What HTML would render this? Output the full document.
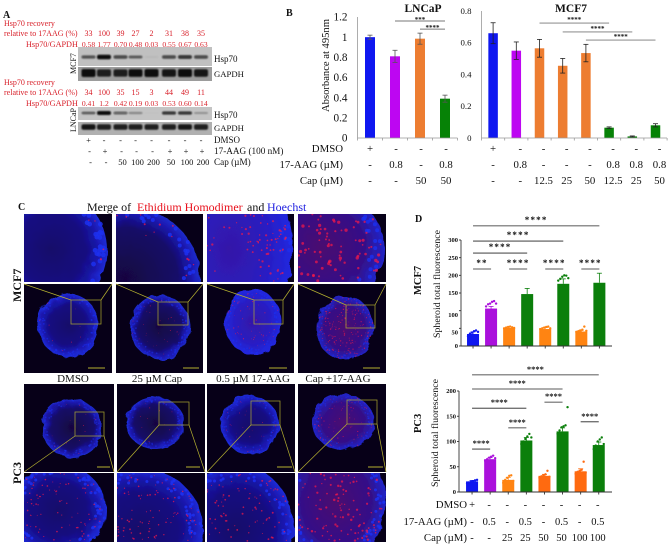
<!DOCTYPE html>
<html lang="en">
<head>
<meta charset="utf-8">
<title>Hsp70 recovery and spheroid fluorescence figure</title>
<style>
html,body{margin:0;padding:0;background:#fff;width:669px;height:545px;overflow:hidden;}
svg{display:block;font-family:"Liberation Serif",serif;overflow:hidden;}
</style>
</head>
<body>
<svg id="fig" xmlns="http://www.w3.org/2000/svg" width="669" height="545" viewBox="0 0 669 545">
<defs>
<filter id="soft" x="-20%" y="-60%" width="140%" height="220%"><feGaussianBlur stdDeviation="0.8"/></filter>
<filter id="rough" x="-10%" y="-10%" width="120%" height="120%"><feTurbulence type="fractalNoise" baseFrequency="0.09" numOctaves="2" seed="4"/><feDisplacementMap in="SourceGraphic" scale="7"/></filter>
</defs>
<rect width="669" height="545" fill="#fff"/>
<g id="panelA"></g>
<g id="panelB"></g>
<g id="panelC"></g>
<g id="panelD"></g>
</svg>
<script>
/* ---------- chart data ---------- */
const lncapValues = [1.0, 0.81, 0.985, 0.39];
const lncapErrors = [0.02, 0.06, 0.055, 0.035];
const lncapTicks = [0, 0.2, 0.4, 0.6, 0.8, 1, 1.2];
const lncapRowDmso = ['+', '-', '-', '-'];
const lncapRowAag = ['-', '0.8', '-', '0.8'];
const lncapRowCap = ['-', '-', '50', '50'];
const lncapSigFrom = [1, 2];
const lncapSigTo = [3, 3];
const lncapSigLevel = [1.16, 1.08];
const lncapSigLabel = ['***', '****'];

const mcf7Values = [0.66, 0.55, 0.565, 0.455, 0.535, 0.065, 0.01, 0.08];
const mcf7Errors = [0.066, 0.055, 0.056, 0.046, 0.055, 0.005, 0.003, 0.01];
const mcf7Ticks = [0, 0.2, 0.4, 0.6, 0.8];
const mcf7RowDmso = ['+', '-', '-', '-', '-', '-', '-', '-'];
const mcf7RowAag = ['-', '0.8', '-', '-', '-', '0.8', '0.8', '0.8'];
const mcf7RowCap = ['-', '-', '12.5', '25', '50', '12.5', '25', '50'];
const mcf7SigFrom = [2, 3, 4];
const mcf7SigTo = [5, 6, 7];
const mcf7SigLevel = [0.724, 0.668, 0.617];
const mcf7SigLabel = ['****', '****', '****'];

const spheroidMcf7Values = [34, 106, 51, 147, 48, 176, 41, 179];
const spheroidMcf7Errors = [6, 6, 3, 16, 4, 14, 4, 27];
const spheroidMcf7Ticks = [0, 50, 100, 150, 200, 250, 300];
const spheroidMcf7Points = [[28,35,38,42,44,40],[112,118,120,125,127,120],[50,52,54,55,53,51],[],[48,50,52,54,55,50],[185,190,196,200,199,192],[40,42,44,46,55,43],[]];
const spheroidMcf7SigFrom = [0, 2, 4, 6, 0, 0, 0];
const spheroidMcf7SigTo = [1, 3, 5, 7, 3, 5, 7];
const spheroidMcf7SigLevel = [218, 218, 218, 218, 263, 297, 340];
const spheroidMcf7SigLabel = ['**', '****', '****', '****', '****', '****', '****'];

const spheroidPc3Values = [21, 65, 24, 102, 32, 120, 41, 93];
const spheroidPc3Errors = [2, 3, 5, 6, 3, 7, 5, 6];
const spheroidPc3Ticks = [0, 50, 100, 150, 200];
const spheroidPc3Points = [[17,19,20,21,23,24],[62,65,68,70,72,67],[18,24,28,32,33,22],[95,100,105,110,115,108],[28,31,33,35,42,30],[115,122,128,130,132,168],[36,40,42,44,60,38],[85,92,100,104,108,95]];
const spheroidPc3SigFrom = [0, 2, 0, 4, 6, 0, 0];
const spheroidPc3SigTo = [1, 3, 3, 5, 7, 5, 7];
const spheroidPc3SigLevel = [85, 127, 166, 178, 139, 204, 232];
const spheroidPc3SigLabel = ['****', '****', '****', '****', '****', '****', '****'];
const spheroidRowDmso = ['+', '-', '-', '-', '-', '-', '-', '-'];
const spheroidRowAag = ['-', '0.5', '-', '0.5', '-', '0.5', '-', '0.5'];
const spheroidRowCap = ['-', '-', '25', '25', '50', '50', '100', '100'];

/* ---------- blot data ---------- */
const recoveryMcf7 = ['33', '100', '39', '27', '2', '31', '38', '35'];
const ratioMcf7 = ['0.58', '1.77', '0.70', '0.48', '0.03', '0.55', '0.67', '0.63'];
const recoveryLncap = ['34', '100', '35', '15', '3', '44', '49', '11'];
const ratioLncap = ['0.41', '1.2', '0.42', '0.19', '0.03', '0.53', '0.60', '0.14'];
const bandsHspMcf7 = [0.6, 1, 0.65, 0.5, 0.04, 0.65, 0.75, 0.65];
const bandsGapdhMcf7 = [1, 0.85, 0.85, 0.95, 1, 0.9, 1, 0.9];
const bandsHspLncap = [0.5, 1, 0.55, 0.3, 0.02, 0.75, 0.75, 0.25];
const bandsGapdhLncap = [0.9, 0.85, 0.85, 0.85, 0.85, 0.85, 0.9, 0.85];
const rowDmsoBlot = ['+', '-', '-', '-', '-', '-', '-', '-'];
const rowAagBlot = ['-', '+', '-', '-', '-', '+', '+', '+'];
const rowCapBlot = ['-', '-', '50', '100', '200', '50', '100', '200'];

/* ---------- helpers ---------- */
const NS = 'http://www.w3.org/2000/svg';
function make(parent, tag, name, props) {
  const el = document.createElementNS(NS, tag);
  
  
  for (const k in props) el.setAttribute(k, props[k]);
  parent.appendChild(el);
  return el;
}
function text(parent, name, str, x, y, size, opts) {
  const o = opts || {};
  const el = make(parent, 'text', name, {x: x, y: y, 'font-size': size, fill: o.fill || '#111', 'text-anchor': o.anchor || 'start', 'font-weight': o.weight || 'normal'});
  if (o.rotate) el.setAttribute('transform', 'rotate(-90 ' + x + ' ' + y + ')');
  if (o.spacing) el.setAttribute('letter-spacing', o.spacing);
  el.textContent = str;
  return el;
}
function line(parent, name, x1, y1, x2, y2, stroke, w) {
  return make(parent, 'line', name, {x1: x1, y1: y1, x2: x2, y2: y2, stroke: stroke, 'stroke-width': w});
}
function rng(seed) {
  let s = seed;
  return function () { s = (s * 16807) % 2147483647; return s / 2147483647; };
}

/* ---------- panel A ---------- */
const A = document.getElementById('panelA');
const RED = '#d8202a';
const blotCol = i => 88.5 + [0, 15.5, 32, 47, 63, 80.5, 96.5, 112.5][i];
text(A, 'panel-a-label', 'A', 3, 18, 10, {weight: 'bold'});
function blotHeader(y0, rec, rat, prefix) {
  text(A, prefix + '-recovery-title-1', 'Hsp70 recovery', 4, y0, 8, {fill: RED});
  text(A, prefix + '-recovery-title-2', 'relative to 17AAG (%)', 4, y0 + 10, 8, {fill: RED});
  text(A, prefix + '-ratio-title', 'Hsp70/GAPDH', 26, y0 + 21, 8.2, {fill: RED});
  rec.forEach((v, i) => text(A, prefix + '-recovery-value', v, blotCol(i), y0 + 10, 8, {fill: RED, anchor: 'middle'}));
  rat.forEach((v, i) => text(A, prefix + '-ratio-value', v, blotCol(i), y0 + 21, 7.6, {fill: RED, anchor: 'middle'}));
}
blotHeader(26, recoveryMcf7, ratioMcf7, 'mcf7');
blotHeader(85, recoveryLncap, ratioLncap, 'lncap');
function blot(y, h, bands, bandY, bandH, bg, name) {
  make(A, 'rect', name + '-membrane', {x: 78, y: y, width: 134, height: h, fill: bg});
  const g = make(A, 'g', name + '-bands', {filter: 'url(#soft)'});
  bands.forEach((v, i) => {
    make(g, 'rect', name + '-band', {x: blotCol(i) - 7, y: bandY - bandH * (0.35 + v * 0.65) / 2, width: 14, height: bandH * (0.35 + v * 0.65), rx: 2, fill: '#0c0c0c', opacity: Math.min(1, v * 1.05)});
  });
}
blot(47, 19, bandsHspMcf7, 57, 4.5, '#c0c0c0', 'mcf7-hsp70-blot');
blot(67, 14, bandsGapdhMcf7, 73, 8, '#9c9c9c', 'mcf7-gapdh-blot');
blot(107, 13, bandsHspLncap, 113, 4, '#c4c4c4', 'lncap-hsp70-blot');
blot(122, 13, bandsGapdhLncap, 127, 6, '#b0b0b0', 'lncap-gapdh-blot');
text(A, 'mcf7-blot-label', 'MCF7', 76, 74, 8, {rotate: true});
text(A, 'lncap-blot-label', 'LNCaP', 76, 132, 8, {rotate: true});
text(A, 'hsp70-label', 'Hsp70', 214, 62, 9);
text(A, 'gapdh-label', 'GAPDH', 214, 77, 8.7);
text(A, 'hsp70-label-lncap', 'Hsp70', 214, 118, 9);
text(A, 'gapdh-label-lncap', 'GAPDH', 214, 131, 8.7);
text(A, 'dmso-row-label', 'DMSO', 214, 143, 9);
text(A, 'aag-row-label', '17-AAG (100 nM)', 214, 154, 9.2);
text(A, 'cap-row-label', 'Cap (µM)', 214, 165, 9.2);
rowDmsoBlot.forEach((v, i) => text(A, 'dmso-row-value', v, blotCol(i), 143, 8.5, {anchor: 'middle'}));
rowAagBlot.forEach((v, i) => text(A, 'aag-row-value', v, blotCol(i) + 1, 154, 8.5, {anchor: 'middle'}));
rowCapBlot.forEach((v, i) => text(A, 'cap-row-value', v, blotCol(i) + 2, 165, 8.5, {anchor: 'middle'}));

/* ---------- generic bar chart ---------- */
function barChart(cfg) {
  const g = make(cfg.parent, 'g', cfg.name, {});
  const y = v => cfg.y0 - v * (cfg.y0 - cfg.yTop) / cfg.max;
  const x = i => cfg.x0 + cfg.band * (i + 0.5) + cfg.pad;
  cfg.values.forEach((v, i) => {
    const color = cfg.colors[i];
    const top = y(v + cfg.errors[i]);
    const errColor = cfg.errColor || color;
    if (!cfg.errBoth) {
      line(g, cfg.name + '-error-stem', x(i), top, x(i), y(v), errColor, 0.8);
      line(g, cfg.name + '-error-cap', x(i) - 2.5, top, x(i) + 2.5, top, errColor, 0.8);
    }
    make(g, 'rect', cfg.name + '-bar', {x: x(i) - cfg.barW / 2, y: y(v), width: cfg.barW, height: cfg.y0 - y(v), fill: color});
    if (cfg.errBoth) {
      const bot = y(v - cfg.errors[i]);
      line(g, cfg.name + '-error-stem', x(i), top, x(i), bot, errColor, 0.8);
      line(g, cfg.name + '-error-cap', x(i) - 2.5, bot, x(i) + 2.5, bot, errColor, 0.8);
      line(g, cfg.name + '-error-cap', x(i) - 2.5, top, x(i) + 2.5, top, errColor, 0.8);
    }
    if (cfg.points && cfg.points[i]) {
      cfg.points[i].forEach((p, j) => {
        const off = (j - (cfg.points[i].length - 1) / 2) * 2;
        make(g, 'circle', cfg.name + '-point', {cx: x(i) + off, cy: y(p), r: 1.2, fill: color});
      });
    }
  });
  line(g, cfg.name + '-x-axis', cfg.x0, cfg.y0, cfg.xEnd, cfg.y0, cfg.axisColor, cfg.axisW);
  line(g, cfg.name + '-y-axis', cfg.x0, cfg.yTop, cfg.x0, cfg.y0, cfg.axisColor, cfg.axisW);
  cfg.ticks.forEach(t => {
    const dy = cfg.labelShift ? cfg.labelShift(t) : 0;
    text(g, cfg.name + '-y-tick-label', String(t), cfg.x0 - cfg.labelGap, y(t) + cfg.fontSize * 0.33 + dy, cfg.fontSize, {anchor: 'end', weight: cfg.tickWeight || 'normal'});
    line(g, cfg.name + '-y-tick', cfg.x0 - cfg.tickLen, y(t), cfg.x0, y(t), cfg.axisColor, cfg.axisW);
  });
  if (cfg.centerTicks) {
    cfg.values.forEach((v, i) => line(g, cfg.name + '-x-tick', x(i), cfg.y0, x(i), cfg.y0 + 2.5, cfg.axisColor, cfg.axisW));
  } else {
    for (let i = 0; i <= cfg.values.length; i++) {
      line(g, cfg.name + '-x-tick', cfg.x0 + cfg.band * i, cfg.y0, cfg.x0 + cfg.band * i, cfg.y0 + 2.5, cfg.axisColor, cfg.axisW);
    }
  }
  cfg.sigFrom.forEach((a, k) => {
    const ly = y(cfg.sigLevel[k]);
    const x1 = x(a), x2 = x(cfg.sigTo[k]);
    line(g, cfg.name + '-significance-line', x1, ly, x2, ly, cfg.sigColor, cfg.sigW);
    text(g, cfg.name + '-significance-stars', cfg.sigLabel[k], (x1 + x2) / 2, ly + cfg.starDy, cfg.starSize, {anchor: 'middle', weight: 'bold', spacing: cfg.starSpacing});
  });
  return {x: x, y: y};
}

/* ---------- panel B ---------- */
const B = document.getElementById('panelB');
const BLUE = '#0f17f0', PURPLE = '#bd06f2', ORANGE = '#ed7d31', GREEN = '#068206';
text(B, 'panel-b-label', 'B', 286, 16, 10, {weight: 'bold'});
text(B, 'lncap-chart-title', 'LNCaP', 423, 12, 11.5, {weight: 'bold', anchor: 'middle'});
text(B, 'mcf7-chart-title', 'MCF7', 571, 12, 11.5, {weight: 'bold', anchor: 'middle'});
text(B, 'absorbance-axis-title', 'Absorbance at 495nm', 329, 112, 10.6, {rotate: true});
const chartL = barChart({
  parent: B, name: 'lncap-chart', values: lncapValues, errors: lncapErrors, errBoth: true, errColor: '#555',
  colors: [BLUE, PURPLE, ORANGE, GREEN], x0: 357.5, xEnd: 457.5, band: 25, pad: 0, barW: 10, y0: 138, yTop: 17, max: 1.2,
  ticks: lncapTicks, fontSize: 11.2, labelGap: 10, tickLen: 0, axisColor: '#999', axisW: 0.8,
  sigFrom: lncapSigFrom, sigTo: lncapSigTo, sigLevel: lncapSigLevel, sigLabel: lncapSigLabel, sigColor: '#777', sigW: 1, starDy: 1, starSize: 7
});
const chartM = barChart({
  parent: B, name: 'mcf7-chart', values: mcf7Values, errors: mcf7Errors, errBoth: true, errColor: '#222',
  colors: [BLUE, PURPLE, ORANGE, ORANGE, ORANGE, GREEN, GREEN, GREEN], x0: 481.5, xEnd: 667, band: 23.2, pad: 0, barW: 9.5, y0: 138, yTop: 11, max: 0.8,
  ticks: mcf7Ticks, fontSize: 8.8, labelGap: 10, tickLen: 0, axisColor: '#999', axisW: 0.8,
  sigFrom: mcf7SigFrom, sigTo: mcf7SigTo, sigLevel: mcf7SigLevel, sigLabel: mcf7SigLabel, sigColor: '#777', sigW: 0.8, starDy: -1, starSize: 7
});
text(B, 'dmso-label', 'DMSO', 343, 152, 10.8, {anchor: 'end'});
text(B, 'aag-label', '17-AAG (µM)', 343, 168, 10.8, {anchor: 'end'});
text(B, 'cap-label', 'Cap (µM)', 343, 184, 10.8, {anchor: 'end'});
[[lncapRowDmso, 152, 'lncap-dmso-value'], [lncapRowAag, 168, 'lncap-aag-value'], [lncapRowCap, 184, 'lncap-cap-value']].forEach(r => {
  r[0].forEach((v, i) => text(B, r[2], v, chartL.x(i) + (i ? 1 : 0), r[1], 10.8, {anchor: 'middle'}));
});
[[mcf7RowDmso, 152, 'mcf7-dmso-value'], [mcf7RowAag, 168, 'mcf7-aag-value'], [mcf7RowCap, 184, 'mcf7-cap-value']].forEach(r => {
  r[0].forEach((v, i) => text(B, r[2], v, chartM.x(i) + (i ? 4 : 0), r[1], 10.8, {anchor: 'middle'}));
});

/* ---------- panel C ---------- */
const C = document.getElementById('panelC');
const YEL = '#b5b030';
const palettes = {
  dark:   [[0, '#12086a'], [0.6, '#160c80'], [0.85, '#1a18b0'], [1, '#1e2cd8']],
  night:  [[0, '#140640'], [0.7, '#180a68'], [0.9, '#1a18b0'], [1, '#1c2ccc']],
  bright: [[0, '#3418a8'], [0.6, '#2a1cc0'], [1, '#2028e0']],
  red:    [[0, '#4a1070'], [0.7, '#341088'], [1, '#2024c8']]
};
let imageCount = 0;
function microscopy(o) {
  const n = imageCount++;
  const defs = document.querySelector('#fig defs');
  const clip = make(defs, 'clipPath', o.name + '-clip', {id: 'clip' + n});
  make(clip, 'rect', o.name + '-clip-rect', {x: o.x, y: o.y, width: o.w, height: o.h});
  const grad = make(defs, 'radialGradient', o.name + '-gradient', {id: 'grad' + n, gradientUnits: 'userSpaceOnUse', cx: 0, cy: 0, r: 1, gradientTransform: 'translate(' + o.cx + ' ' + o.cy + ') scale(' + o.rx + ' ' + o.ry + ')'});
  palettes[o.palette].forEach(s => make(grad, 'stop', o.name + '-gradient-stop', {offset: s[0], 'stop-color': s[1]}));
  const g = make(C, 'g', o.name, {'clip-path': 'url(#clip' + n + ')'});
  make(g, 'rect', o.name + '-backdrop', {x: o.x, y: o.y, width: o.w, height: o.h, fill: '#070018'});
  const pts = [];
  for (let i = 0; i < 72; i++) {
    const a = i / 72 * Math.PI * 2;
    const px = Math.max(o.x - 2, Math.min(o.x + o.w + 2, o.cx + Math.cos(a) * o.rx));
    const py = Math.max(o.y - 2, Math.min(o.y + o.h + 2, o.cy + Math.sin(a) * o.ry));
    pts.push(px.toFixed(1) + ',' + py.toFixed(1));
  }
  make(g, 'polygon', o.name + '-spheroid', {points: pts.join(' '), fill: 'url(#grad' + n + ')', filter: 'url(#rough)'});
  const rand = rng(o.seed);
  for (let i = 0; i < o.cells; i++) {
    const a = rand() * Math.PI * 2, f = 0.78 + rand() * 0.2;
    const px = o.cx + Math.cos(a) * o.rx * f, py = o.cy + Math.sin(a) * o.ry * f;
    if (px < o.x || px > o.x + o.w || py < o.y || py > o.y + o.h - 1) continue;
    make(g, 'circle', o.name + '-cell', {cx: px, cy: py, r: o.cellR, fill: '#1c30f0', opacity: o.cellO});
  }
  const dMin = o.dotMin || 0;
  for (let i = 0; i < o.dots * 1.5; i++) {
    const a = rand() * Math.PI * 2, f = dMin + Math.sqrt(rand()) * (0.97 - dMin);
    const px = o.cx + Math.cos(a) * o.rx * f, py = o.cy + Math.sin(a) * o.ry * f;
    if (px < o.x || px > o.x + o.w || py < o.y || py > o.y + o.h - 1) continue;
    make(g, 'circle', o.name + '-dead-cell', {cx: px, cy: py, r: o.dotR * (0.6 + rand() * 0.6), fill: '#f81848', opacity: 0.7});
  }
}
function thumbnailExtras(o, up, sy) {
  const g = make(C, 'g', o.name + '-zoom-guides', {});
  const b = o.b;
  make(g, 'rect', o.name + '-zoom-box', {x: b[0], y: b[1], width: b[2], height: b[3], fill: 'none', stroke: YEL, 'stroke-width': 0.8, opacity: 0.85});
  const edgeY = up ? o.y : o.y + o.h;
  const boxY = up ? b[1] : b[1] + b[3];
  line(g, o.name + '-zoom-line-left', o.x, edgeY, b[0], boxY, YEL, 0.7);
  line(g, o.name + '-zoom-line-right', o.x + o.w, edgeY, b[0] + b[2], boxY, YEL, 0.7);
  line(g, o.name + '-scale-bar', o.s[0], sy, o.s[1], sy, YEL, 1);
}
const cropsTop = [
  {x:24,y:214,w:88,h:68,cx:52,cy:250,rx:55,ry:60,palette:'dark',cells:90,cellR:2.4,cellO:.85,dots:12,dotMin:.7,dotR:1,seed:11},
  {x:116,y:214,w:87,h:68,cx:125,cy:278,rx:75,ry:72,palette:'night',cells:80,cellR:2,cellO:.85,dots:30,dotMin:.5,dotR:1,seed:23},
  {x:207,y:214,w:87,h:68,cx:230,cy:250,rx:62,ry:92,palette:'bright',cells:60,cellR:2.2,cellO:.7,dots:170,dotMin:.2,dotR:1,seed:37},
  {x:298,y:214,w:88,h:68,cx:322,cy:248,rx:62,ry:58,palette:'red',cells:60,cellR:2,cellO:.8,dots:100,dotR:1.4,seed:41}
];
const thumbsTop = [
  {x:24,y:284,w:88,h:89,cx:68,cy:325,rx:30,ry:32,palette:'dark',cells:90,cellR:.9,cellO:.55,dots:6,dotR:.5,seed:53,b:[71,300,30,24],s:[88,105]},
  {x:116,y:284,w:87,h:89,cx:160,cy:327,rx:30,ry:32,palette:'night',cells:90,cellR:.9,cellO:.55,dots:20,dotR:.4,seed:67,b:[158,302,30,23],s:[183,199]},
  {x:207,y:284,w:87,h:89,cx:253,cy:322,rx:28,ry:33,palette:'bright',cells:80,cellR:1,cellO:.5,dots:35,dotR:.5,seed:71,b:[254,300,29,24],s:[269,287]},
  {x:298,y:284,w:88,h:89,cx:345,cy:328,rx:29,ry:32,palette:'red',cells:70,cellR:.9,cellO:.5,dots:120,dotR:.55,seed:83,b:[346,305,29,23],s:[363,380]}
];
const thumbsBottom = [
  {x:24,y:384,w:90,h:88,cx:72,cy:428,rx:30,ry:29,palette:'night',cells:80,cellR:.9,cellO:.5,dots:8,dotR:.4,seed:97,b:[75,412,29,24],s:[97,110]},
  {x:117,y:384,w:88,h:88,cx:155,cy:423,rx:29,ry:26,palette:'night',cells:80,cellR:.9,cellO:.5,dots:10,dotR:.4,seed:101,b:[159,402,30,23],s:[186,200]},
  {x:207,y:384,w:88,h:88,cx:250,cy:425,rx:29,ry:29,palette:'dark',cells:80,cellR:.9,cellO:.5,dots:20,dotR:.4,seed:113,b:[251,401,29,24],s:[277,292]},
  {x:298,y:384,w:88,h:88,cx:343,cy:422,rx:31,ry:28,palette:'red',cells:80,cellR:.9,cellO:.5,dots:45,dotR:.5,seed:127,b:[347,400,30,24],s:[368,383]}
];
const cropsBottom = [
  {x:24,y:473,w:90,h:69,cx:58,cy:510,rx:48,ry:46,palette:'dark',cells:110,cellR:1.5,cellO:.85,dots:70,dotR:.7,seed:131},
  {x:117,y:473,w:88,h:69,cx:140,cy:530,rx:63,ry:62,palette:'dark',cells:110,cellR:1.5,cellO:.85,dots:130,dotR:.75,seed:137},
  {x:207,y:473,w:88,h:69,cx:236,cy:530,rx:58,ry:66,palette:'dark',cells:110,cellR:1.5,cellO:.85,dots:130,dotR:.85,seed:149},
  {x:298,y:473,w:88,h:69,cx:336,cy:502,rx:50,ry:60,palette:'red',cells:100,cellR:1.5,cellO:.85,dots:110,dotR:1.05,seed:151}
];
const conditionNames = ['dmso', 'cap', 'aag', 'combo'];
cropsTop.forEach((o, i) => { o.name = 'mcf7-crop-' + conditionNames[i]; microscopy(o); });
thumbsTop.forEach((o, i) => {
  o.name = 'mcf7-spheroid-' + conditionNames[i];
  microscopy(o);
  thumbnailExtras(o, true, 368);
});
thumbsBottom.forEach((o, i) => {
  o.name = 'pc3-spheroid-' + conditionNames[i];
  microscopy(o);
  thumbnailExtras(o, false, 467);
});
cropsBottom.forEach((o, i) => { o.name = 'pc3-crop-' + conditionNames[i]; microscopy(o); });
text(C, 'panel-c-label', 'C', 18, 210, 10, {weight: 'bold'});
text(C, 'merge-title', 'Merge of', 87, 211, 12);
text(C, 'ethidium-title', 'Ethidium Homodimer', 137, 211, 12, {fill: '#e8101c'});
text(C, 'and-title', 'and', 247, 211, 12);
text(C, 'hoechst-title', 'Hoechst', 267, 211, 12, {fill: '#2020e0'});
text(C, 'dmso-column-label', 'DMSO', 73, 382, 11, {anchor: 'middle'});
text(C, 'cap-column-label', '25 µM Cap', 157, 382, 11, {anchor: 'middle'});
text(C, 'aag-column-label', '0.5 µM 17-AAG', 253, 382, 11, {anchor: 'middle'});
text(C, 'combo-column-label', 'Cap +17-AAG', 338, 382, 11, {anchor: 'middle'});
text(C, 'mcf7-row-label', 'MCF7', 21, 302, 12, {weight: 'bold', rotate: true});
text(C, 'pc3-row-label', 'PC3', 21, 484, 12, {weight: 'bold', rotate: true});

/* ---------- panel D ---------- */
const D = document.getElementById('panelD');
const ORANGE2 = '#ff8412', GREEN2 = '#0b7f0b', PURPLE2 = '#aa10dc', ORANGE3 = '#ff6a10';
text(D, 'panel-d-label', 'D', 415, 222, 10, {weight: 'bold'});
text(D, 'mcf7-spheroid-label', 'MCF7', 421, 295, 10.5, {weight: 'bold', rotate: true});
text(D, 'pc3-spheroid-label', 'PC3', 421, 433, 10.5, {weight: 'bold', rotate: true});
text(D, 'mcf7-fluorescence-axis-title', 'Spheroid total fluorescence', 440, 338, 9.9, {rotate: true});
text(D, 'pc3-fluorescence-axis-title', 'Spheroid total fluorescence', 438, 487, 9.9, {rotate: true});
barChart({
  parent: D, name: 'spheroid-mcf7-chart', values: spheroidMcf7Values, errors: spheroidMcf7Errors, points: spheroidMcf7Points,
  colors: [BLUE, PURPLE2, ORANGE2, GREEN2, ORANGE2, GREEN2, ORANGE2, GREEN2], x0: 461, xEnd: 612, band: 18.05, pad: 3, barW: 12, y0: 346, yTop: 240, max: 300,
  ticks: spheroidMcf7Ticks, fontSize: 6.5, tickWeight: 'bold', labelGap: 3, tickLen: 2, axisColor: '#333', axisW: 0.9, centerTicks: true,
  labelShift: t => (t === 50 || t === 100) ? 4 : 0,
  sigFrom: spheroidMcf7SigFrom, sigTo: spheroidMcf7SigTo, sigLevel: spheroidMcf7SigLevel, sigLabel: spheroidMcf7SigLabel, sigColor: '#222', sigW: 0.8, starDy: -3, starSize: 9, starSpacing: 1.2
});
const chartP = barChart({
  parent: D, name: 'spheroid-pc3-chart', values: spheroidPc3Values, errors: spheroidPc3Errors, points: spheroidPc3Points,
  colors: [BLUE, PURPLE2, ORANGE2, GREEN2, ORANGE3, GREEN2, ORANGE3, GREEN2], x0: 459, xEnd: 612, band: 18.1, pad: 4, barW: 12, y0: 492, yTop: 391, max: 200,
  ticks: spheroidPc3Ticks, fontSize: 6.5, tickWeight: 'bold', labelGap: 3, tickLen: 2, axisColor: '#333', axisW: 0.9, centerTicks: true,
  sigFrom: spheroidPc3SigFrom, sigTo: spheroidPc3SigTo, sigLevel: spheroidPc3SigLevel, sigLabel: spheroidPc3SigLabel, sigColor: '#222', sigW: 0.8, starDy: -3, starSize: 8.5
});
text(D, 'spheroid-dmso-label', 'DMSO', 467, 508, 10.8, {anchor: 'end'});
text(D, 'spheroid-aag-label', '17-AAG (µM)', 467, 525, 10.8, {anchor: 'end'});
text(D, 'spheroid-cap-label', 'Cap (µM)', 467, 541, 10.8, {anchor: 'end'});
[[spheroidRowDmso, 508, 'spheroid-dmso-value'], [spheroidRowAag, 525, 'spheroid-aag-value'], [spheroidRowCap, 541, 'spheroid-cap-value']].forEach(r => {
  r[0].forEach((v, i) => text(D, r[2], v, chartP.x(i) - (i ? 1 : 0), r[1], 10.5, {anchor: 'middle'}));
});
</script>
</body>
</html>
